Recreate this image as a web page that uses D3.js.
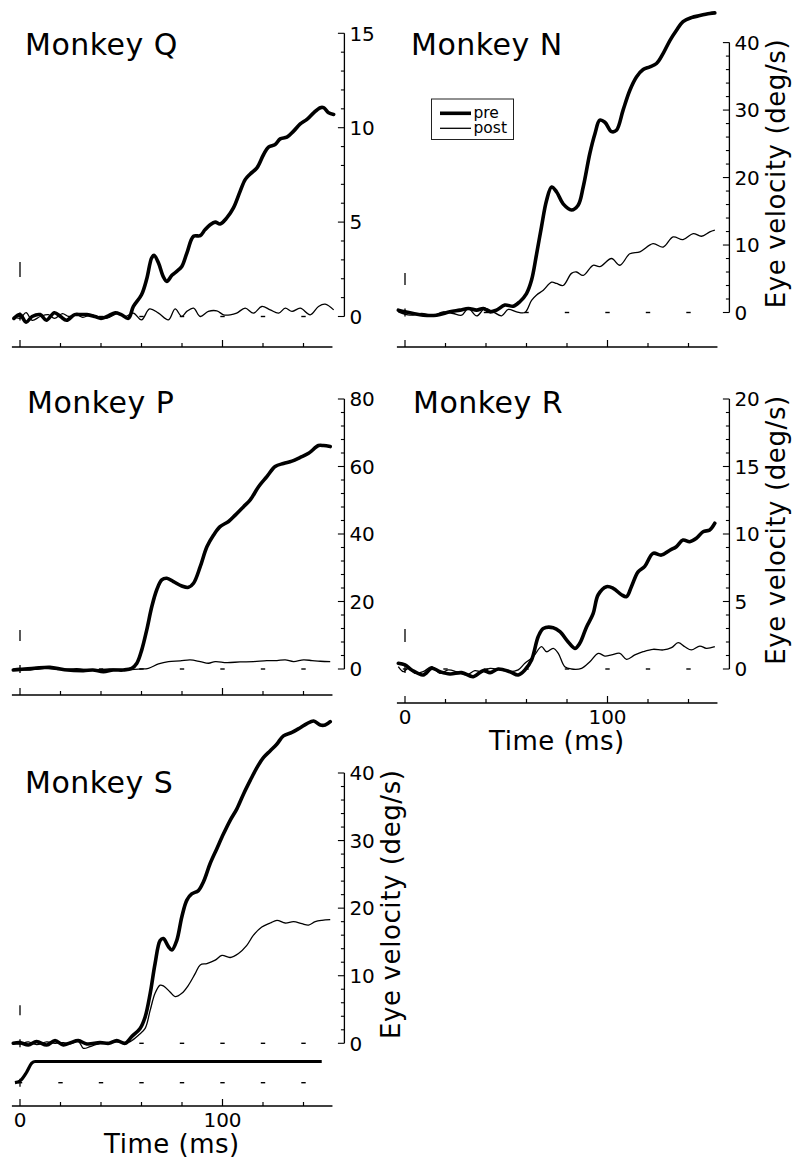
<!DOCTYPE html>
<html><head><meta charset="utf-8">
<script src="https://cdn.jsdelivr.net/npm/d3@7"></script>
<style>
body{margin:0;background:#fff}
svg{display:block}
text{font-family:"DejaVu Sans",Verdana,sans-serif;fill:#000}
</style>
</head><body>
<svg id="chart" width="800" height="1166"></svg>
<script>
// ---------------- data ----------------
const monkeys = ["Q", "N", "P", "R", "S"];
const seriesNames = ["pre", "post"];
const timeTicks = [0, 20, 40, 60, 80, 100, 120, 140];
const timeTickLabels = [0, 100];
const xTitle = "Time (ms)";
const yTitle = "Eye velocity (deg/s)";

const qTicks = [0, 5, 10, 15];
const nTicks = [0, 10, 20, 30, 40];
const pTicks = [0, 20, 40, 60, 80];
const rTicks = [0, 5, 10, 15, 20];
const sTicks = [0, 10, 20, 30, 40];

// [time (ms), eye velocity (deg/s)]
const qPre = [[-3,-0.1],[0,0.1],[3,-0.3],[6,0],[10,0.1],[13,-0.2],[17,0.2],[20,0],[23,-0.2],[27,0.1],[30,0.1],[33,0.1],[37,0],[40,-0.1],[43,0],[47,0.2],[50,0.1],[53.5,-0.1],
  [56,0.53],[60,1.15],[62.6,2.0],[65,3.1],[66.2,3.24],[68.4,2.83],[70.8,2.1],[72.5,1.86],[75,2.18],[77.4,2.39],[79.9,2.65],[82.4,3.36],[85.7,4.25],[89,4.28],[91.4,4.6],[93.9,4.86],[96.4,5.0],[98.8,4.9],
  [102.1,5.22],[105.4,5.75],[108.7,6.63],[111.2,7.25],[113.7,7.55],[117,7.87],[120.3,8.58],[122.7,8.97],[126,9.11],[128.5,9.41],[131.8,9.5],[135.1,9.82],[138.4,10.2],[141.7,10.44],[145,10.79],[148.3,11.06],[149.9,11.06],[152.4,10.79],[154.9,10.7]];
const qPost = [[-3,0],[0,-0.1],[3,0.2],[6,-0.2],[10,0],[14,0.1],[17,-0.1],[21,0.15],[24,0],[28,0.1],[31,-0.05],[35,0.1],[38,0],[42,-0.1],[45,0],[48,0.15],[52,0],[56,0.18],[60,-0.18],[64,0.4],[68.4,0.18],[73.3,-0.18],[76.6,0.4],[79.9,0],
  [82.4,0.27],[85.7,0.44],[89,0],[93,0.27],[97.2,0.3],[100.5,0.09],[103.8,0.09],[107,0.18],[111.2,0.44],[115.3,0.18],[119.4,0.53],[123.6,0.35],[127.7,0.18],[131,0.44],[134.3,0.27],[138.4,0.44],[143.3,0.09],[147.4,0.53],[150.7,0.65],[154.9,0.35]];

const nPre = [[-3.3,0.35],[0,0.1],[4.1,-0.15],[9,-0.4],[15.6,-0.4],[22.2,0.1],[27.1,0.35],[31.3,0.6],[35.4,0.35],[38.7,0.6],[41.9,0.1],[45.2,0.35],[49.3,1.1],[53.5,0.94],[56.7,1.6],[60,2.8],[62.5,4.8],[65,8.7],[67.4,12.7],[69.9,16.6],[72.4,18.6],[74.8,17.9],[78.1,16.1],[82.2,15.2],[85.5,15.9],[88,18.6],[91.3,23.6],[93.8,26.5],[96.2,28.5],[98.7,28.2],
  [102,26.8],[104.4,27],[107.7,30],[111,32.9],[114.3,34.9],[117.6,36],[120.9,36.4],[124.2,36.9],[127.5,38.4],[130.8,40.3],[134,41.8],[137.3,43.1],[141.4,43.7],[145.6,44],[150.5,44.3],[153,44.4]];
const nPost = [[-3.3,0.1],[2.5,-0.4],[8.2,-0.15],[14,-0.4],[18.9,0.1],[23.8,-0.15],[28,-0.4],[31.3,0.6],[35.4,-0.5],[39.5,0.6],[43.6,0.1],[47.7,-0.5],[51,0.45],[55.1,0.1],[59.2,0],[62.5,1.8],[65,2.6],[68.3,3.3],[72.4,4.5],[74.8,4.3],[78.1,4.0],[82.2,5.8],[84.7,6.0],[88,5.5],[92.9,7.0],[96.2,6.8],
  [102,8.0],[106.1,7.0],[111,8.7],[116,9.0],[122.5,10.2],[127.5,9.7],[132.4,11.2],[137.3,10.8],[142.3,11.7],[146.4,11.3],[150.5,11.95],[153,12.2]];

const pPre = [[-3.3,-0.3],[0,-0.1],[7,0.2],[14.8,0.5],[22,-0.2],[31.3,-0.5],[36,-0.3],[41.2,-0.8],[46,-0.3],[51,-0.3],[55.2,0.2],[57.7,1.7],[60.1,5.6],[62.6,11.6],[65.1,18.5],[67.5,23.4],[70,26.4],[72.5,26.9],[75.8,25.9],[79.9,24.6],[83.2,24.2],[85.7,25.4],[89,30.3],[92.3,36.2],[95.6,39.7],[98.8,42.2],
  [103,43.7],[106.3,45.6],[110.4,48.1],[113.7,50.1],[117.8,54],[121.9,57],[126,60],[130.1,60.9],[134.3,61.6],[138.4,62.7],[142.5,63.9],[147.4,66.2],[149.9,66.2],[153.2,65.9]];
const pPost = [[-3.3,0],[5,-0.3],[12,0.2],[20,-0.2],[28,0.1],[36,-0.3],[44,0],[52,-0.2],[59.3,0],[63.4,0.2],[68.4,1.5],[73.3,2.2],[79.1,2.4],[84,2.7],[89,2.2],[93.1,1.7],[96.4,2.2],[102.1,1.9],[108.7,2.1],[115.3,2.2],[121.9,2.5],[126.9,2.5],[131,2.7],[135.1,2.2],[140,2.7],[144.2,2.5],[148.3,2.3],[153.2,2.2]];

const rPre = [[-3.3,0.42],[0,0.3],[3.3,-0.07],[9,-0.44],[13.2,0.05],[17.3,-0.2],[22.2,-0.37],[28,-0.27],[33.7,-0.57],[38.7,-0.12],[42,-0.27],[46,0],[51.8,-0.2],[55.9,-0.44],[59.2,-0.07],[62.5,0.67],[65.8,2.4],[68.3,3.0],[73.2,3.06],[76.5,2.77],[80.6,2.0],[83.9,1.53],[86.3,1.9],[89.6,3.1],[92.9,4.1],[95.4,5.5],[99.5,6.1],
  [102.8,5.98],[106.9,5.5],[109.4,5.36],[111.8,6.1],[115.1,7.2],[118.4,7.6],[122.5,8.57],[126.6,8.44],[130.8,8.8],[134,9.06],[137.3,9.55],[140.6,9.43],[143.9,9.68],[147.2,10.17],[150.5,10.3],[153,10.8]];
const rPost = [[-3.3,0.17],[-0.8,-0.2],[1.6,0.05],[4.9,-0.32],[9,-0.2],[13.2,0.17],[17.3,-0.32],[21.4,-0.07],[25.5,-0.2],[30.4,-0.44],[34.5,-0.12],[37.8,-0.2],[42,0.05],[46.9,-0.07],[51.8,-0.2],[55.9,-0.07],[59.2,0.42],[63.3,0.9],[67.4,1.65],[69.9,1.28],[73.2,1.53],[75.7,1.16],[78.9,0.17],[82.2,0],[87.2,0.05],[91.3,0.54],[95.4,1.16],[98.7,0.96],
  [102,1.04],[106.1,1.16],[109.4,0.72],[113.5,1.04],[117.6,1.28],[122.5,1.46],[127.5,1.41],[131.6,1.58],[134.9,1.95],[138.2,1.65],[141.4,1.41],[145.6,1.7],[148.8,1.53],[153,1.65]];

const sPre = [[-3.3,0],[0,0.1],[4.1,-0.25],[8.2,0.25],[13.2,-0.25],[17.3,0.4],[21.4,-0.25],[25,0.1],[28.8,0.4],[33,-0.1],[39.5,0.1],[44,0],[47.8,0.4],[51.9,0],[55.2,1.0],[59.3,2.2],[61.8,3.9],[64.3,7.4],[66.7,11.8],[69.2,15.2],[70.8,15.5],[73.3,14.3],[75,13.8],[77.4,15.2],[79.9,18.7],[82.4,21.2],[84.8,22.1],[88.1,22.6],[90.6,23.9],[93.9,26.6],[97.2,28.8],
  [100.5,31],[103.8,33],[107.1,34.7],[110.4,36.9],[113.7,38.9],[117,40.8],[120.3,42.3],[123.6,43.3],[126.9,44.3],[130.1,45.5],[134.3,46],[138.4,46.7],[141.7,47.3],[145,47.7],[148.3,47.1],[150.7,47.1],[153.2,47.6]];
const sPost = [[-3.3,0.1],[0,-0.1],[4.1,0.2],[8.2,-0.2],[13.2,0.2],[17.3,0],[21.4,0.1],[25,-0.1],[28.8,0.3],[31.3,-0.74],[34.6,-0.5],[39.5,0],[44,0.1],[48,0.2],[51.9,0],[54.4,0.25],[58.5,1.2],[61.8,2.2],[64.3,4.9],[66.7,7.4],[69.2,8.6],[70.8,8.5],[74.1,7.6],[76.6,6.9],[79.9,7.4],[83.2,8.6],[86.5,10.3],[89,11.6],[92.3,11.8],[96.4,12.3],[99.7,13.0],
  [103.8,12.7],[107.9,13.3],[112,14.5],[115.3,16],[119.4,17.2],[123.6,17.8],[126.9,18.2],[131,17.8],[135.1,18],[139.2,17.7],[142.5,17.5],[145.8,18],[149.1,18.2],[153.2,18.3]];
// target velocity trace (normalized: 0 = at rest, 1 = full speed)
const sTarget = [[-2.5,0],[0,0.08],[3.3,0.5],[5.8,0.92],[7.5,1],[149,1]];

// ---------------- layout ----------------
const svg = d3.select("#chart");
const PX_PER_100MS = 202.5;
const THICK = 3.6, THIN = 1.3;

const panels = [
  {name:"Q", pre:qPre, post:qPost, ticks:qTicks, minor:1,  x0:20,  yZero:316.5, yTop:33.3, axisY:347, title:[25,55],  bar:[39.5,54.5], xLab:false, yLab:false},
  {name:"N", pre:nPre, post:nPost, ticks:nTicks, minor:2,  x0:405, yZero:312.5, yTop:42.6, axisY:347, title:[411,55], bar:[27.5,39.5], xLab:false, yLab:true, legend:true},
  {name:"P", pre:pPre, post:pPost, ticks:pTicks, minor:4,  x0:20,  yZero:669,   yTop:399,  axisY:695, title:[27,413], bar:[28,39], xLab:false, yLab:false},
  {name:"R", pre:rPre, post:rPost, ticks:rTicks, minor:1,  x0:405, yZero:669,   yTop:399,  axisY:703, title:[413,413], bar:[27,40], xLab:true, yLab:true},
  {name:"S", pre:sPre, post:sPost, ticks:sTicks, minor:2,  x0:20,  yZero:1043.3,yTop:773,  axisY:1106, title:[25,793], bar:[28,38], xLab:true, yLab:true, target:sTarget, targetY:[1082.7,1061.5]}
];

panels.forEach(p => {
  const g = svg.append("g");
  const x = d3.scaleLinear().domain([0, 100]).range([p.x0, p.x0 + PX_PER_100MS]);
  const top = p.ticks[p.ticks.length - 1];
  const y = d3.scaleLinear().domain([0, top]).range([p.yZero, p.yTop]);
  const axisX = x(160.2);

  // title
  g.append("text").attr("x", p.title[0]).attr("y", p.title[1])
    .attr("font-size", 30).attr("letter-spacing", 0.5).text("Monkey " + p.name);

  // zero reference dashes
  const drawDashes = (yy) => {
    timeTicks.forEach(t => {
      g.append("line").attr("x1", x(t) - 2.2).attr("x2", x(t) + 2.2)
        .attr("y1", yy).attr("y2", yy).attr("stroke", "#000").attr("stroke-width", 1.4);
    });
    g.append("line").attr("x1", x(0)).attr("x2", x(0))
      .attr("y1", yy - 4).attr("y2", yy + 4).attr("stroke", "#000").attr("stroke-width", 1.3);
  };
  drawDashes(y(0));

  // small vertical marker at t=0
  g.append("line").attr("x1", x(0)).attr("x2", x(0))
    .attr("y1", y(0) - p.bar[1]).attr("y2", y(0) - p.bar[0])
    .attr("stroke", "#000").attr("stroke-width", 1.3);

  // bottom time axis
  g.append("line").attr("x1", x(-4)).attr("x2", x(154.3))
    .attr("y1", p.axisY).attr("y2", p.axisY).attr("stroke", "#000").attr("stroke-width", 1.3);
  timeTicks.forEach(t => {
    const len = timeTickLabels.includes(t) ? 7 : 4;
    g.append("line").attr("x1", x(t)).attr("x2", x(t))
      .attr("y1", p.axisY).attr("y2", p.axisY - len).attr("stroke", "#000").attr("stroke-width", 1.2);
  });
  if (p.xLab) {
    timeTickLabels.forEach(t => {
      g.append("text").attr("x", x(t)).attr("y", p.axisY + 21).attr("text-anchor", "middle")
        .attr("font-size", 20).text(t);
    });
    g.append("text").attr("x", x(75)).attr("y", p.axisY + 47).attr("text-anchor", "middle")
      .attr("font-size", 26).attr("letter-spacing", 0.5).text(xTitle);
  }

  // right velocity axis
  g.append("line").attr("x1", axisX).attr("x2", axisX)
    .attr("y1", y(0)).attr("y2", y(top)).attr("stroke", "#000").attr("stroke-width", 1.3);
  d3.range(0, top + 0.001, p.minor).forEach(v => {
    const major = p.ticks.includes(v);
    g.append("line").attr("x1", axisX).attr("x2", axisX - (major ? 6.5 : 3.5))
      .attr("y1", y(v)).attr("y2", y(v)).attr("stroke", "#000").attr("stroke-width", 1.1);
  });
  p.ticks.forEach(v => {
    g.append("text").attr("x", axisX + 5).attr("y", y(v)).attr("dy", "0.36em")
      .attr("font-size", 20).text(v);
  });
  if (p.yLab) {
    const cy = (y(0) + y(top)) / 2 - 4;
    g.append("text").attr("transform", `translate(${axisX + 56},${cy}) rotate(-90)`)
      .attr("text-anchor", "middle").attr("font-size", 26).attr("letter-spacing", 0.6).text(yTitle);
  }

  // traces
  const line = d3.line().x(d => x(d[0])).y(d => y(d[1])).curve(d3.curveCatmullRom.alpha(0.5));
  g.append("path").attr("d", line(p.post)).attr("fill", "none").attr("stroke", "#000")
    .attr("stroke-width", THIN).attr("stroke-linejoin", "round");
  g.append("path").attr("d", line(p.pre)).attr("fill", "none").attr("stroke", "#000")
    .attr("stroke-width", THICK).attr("stroke-linejoin", "round").attr("stroke-linecap", "round");

  // target trace
  if (p.target) {
    const ty = d3.scaleLinear().domain([0, 1]).range(p.targetY);
    drawDashes(ty(0));
    const tl = d3.line().x(d => x(d[0])).y(d => ty(d[1])).curve(d3.curveMonotoneX);
    g.append("path").attr("d", tl(p.target)).attr("fill", "none").attr("stroke", "#000")
      .attr("stroke-width", 3.2).attr("stroke-linejoin", "round");
  }

  // legend
  if (p.legend) {
    const lg = g.append("g");
    lg.append("rect").attr("x", 431.5).attr("y", 99).attr("width", 82).attr("height", 40.5)
      .attr("fill", "#fff").attr("stroke", "#222").attr("stroke-width", 1);
    seriesNames.forEach((s, i) => {
      const ly = 113.3 + i * 15;
      lg.append("line").attr("x1", 440).attr("x2", 471).attr("y1", ly).attr("y2", ly)
        .attr("stroke", "#000").attr("stroke-width", i === 0 ? THICK : THIN);
      lg.append("text").attr("x", 473.5).attr("y", ly + 4.5).attr("font-size", 15.5).text(s);
    });
  }
});
</script>
</body></html>
